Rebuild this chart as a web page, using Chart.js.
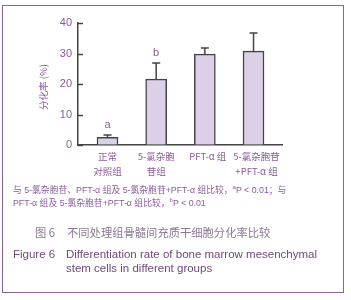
<!DOCTYPE html>
<html><head><meta charset="utf-8">
<script src="https://cdn.jsdelivr.net/npm/chart.js@4"></script>
<style>
body{margin:0;background:#fff;}
#wrap{position:relative;width:351px;height:300px;overflow:hidden;font-family:"Liberation Sans",Arial,"Noto Sans CJK SC",sans-serif;}
#frame{position:absolute;left:2px;top:5px;width:340px;height:286px;border:1.5px solid #8c619c;}
#cv{position:absolute;left:0;top:0;}
.t{position:absolute;white-space:nowrap;line-height:1;}
.note{font-size:8.8px;color:#8a5a9a;left:13px;}
.cap{font-size:11.5px;color:#6e4a7c;}
.capcn{font-size:11.3px;color:#8a7a90;font-family:"Noto Sans CJK SC",sans-serif;}
sup{font-size:6px;vertical-align:4px;line-height:0;}
</style></head>
<body><div id="wrap">
<div id="frame"></div>
<canvas id="cv" width="351" height="185" style="width:351px;height:185px"></canvas>
<div class="t note" style="top:186px">与 5-氯杂胞苷、PFT-α 组及 5-氯杂胞苷+PFT-α 组比较，<sup>a</sup>P &lt; 0.01；与</div>
<div class="t note" style="top:199px">PFT-α 组及 5-氯杂胞苷+PFT-α 组比较，<sup>b</sup>P &lt; 0.01</div>
<div class="t capcn" style="left:35px;top:227px">图 6</div>
<div class="t capcn" style="left:67px;top:227px">不同处理组骨髓间充质干细胞分化率比较</div>
<div class="t cap" style="left:13px;top:249px">Figure 6</div>
<div class="t cap" style="left:66px;top:249px">Differentiation rate of bone marrow mesenchymal</div>
<div class="t cap" style="left:66px;top:263px">stem cells in different groups</div>
</div>
<script>
const categories = [["正常","对照组"],["5-氯杂胞","苷组"],["PFT-α 组"],["5-氯杂胞苷","+PFT-α 组"]];
const values = [2.5, 21.6, 29.8, 30.8];
const errors = [0.8, 5.3, 2.0, 5.9];
const sigLabels = ["a","b","",""];
const yTicks = [0,10,20,30,40];
const yTitle = "分化率 (%)";
const purple = "#8a5a9a";
const dark = "#444";

const extras = {
  id:'extras',
  afterDatasetsDraw(chart){
    const ctx = chart.ctx, x = chart.scales.x, y = chart.scales.y;
    ctx.save();
    ctx.strokeStyle = dark; ctx.lineWidth = 1.5;
    yTicks.forEach(v=>{const py=Math.round(y.getPixelForValue(v))+0.5;ctx.beginPath();ctx.moveTo(x.left,py);ctx.lineTo(x.left+5,py);ctx.stroke();});
    values.forEach((v,i)=>{
      const px = x.getPixelForValue(i);
      const y0 = y.getPixelForValue(v), y1 = y.getPixelForValue(v+errors[i]);
      ctx.strokeStyle = dark; ctx.lineWidth = 1.5;
      ctx.beginPath(); ctx.moveTo(px,y0); ctx.lineTo(px,y1);
      ctx.moveTo(px-4,y1); ctx.lineTo(px+4,y1); ctx.stroke();
      if(sigLabels[i]){
        ctx.fillStyle = purple; ctx.font = "11px 'Liberation Sans', Arial";
        ctx.textAlign='center'; ctx.textBaseline='bottom';
        ctx.fillText(sigLabels[i], px, y1-4);
      }
      ctx.fillStyle = purple; ctx.font = "9.5px 'Noto Sans CJK SC', sans-serif";
      ctx.textAlign='center'; ctx.textBaseline='middle';
      categories[i].forEach((line,k)=>ctx.fillText(line, px+(i>=2?3:0), y.bottom+11+k*15));
    });
    ctx.translate(43, (y.top+y.bottom)/2+3);
    ctx.rotate(-Math.PI/2);
    ctx.fillStyle = purple; ctx.font = "9.5px 'Noto Sans CJK SC', sans-serif";
    ctx.textAlign='center'; ctx.textBaseline='middle';
    ctx.fillText(yTitle,0,0);
    ctx.restore();
  }
};

new Chart(document.getElementById('cv'), {
  type:'bar',
  data:{datasets:[{
    data: values.map((v,i)=>({x:i,y:v})),
    backgroundColor:'#dcd0e8', borderColor:dark, borderWidth:1.5, borderSkipped:'bottom',
    barThickness:21
  }]},
  options:{
    responsive:false, animation:false,
    layout:{padding:{left:0,right:69,top:23,bottom:0}},
    plugins:{legend:{display:false},tooltip:{enabled:false}},
    scales:{
      x:{type:'linear', min:-0.606, max:3.585, offset:false,
        afterBuildTicks:s=>{s.ticks=categories.map((c,i)=>({value:i}));},
        afterFit:s=>{s.height=40;},
        grid:{display:true,offset:false,drawOnChartArea:false,drawTicks:false,color:'rgba(0,0,0,0)'},
        border:{display:true,color:dark,width:1.5},
        ticks:{display:false}
      },
      y:{min:0,max:40,
        afterBuildTicks:s=>{s.ticks=yTicks.map(v=>({value:v}));},
        afterFit:s=>{s.width=78;},
        grid:{display:true,drawOnChartArea:false,drawTicks:false,color:'rgba(0,0,0,0)'},
        border:{display:true,color:dark,width:1.5},
        ticks:{padding:6,color:purple,font:{size:11,family:"'Liberation Sans', Arial"}}
      }
    }
  },
  plugins:[extras]
});
</script>
</body></html>
